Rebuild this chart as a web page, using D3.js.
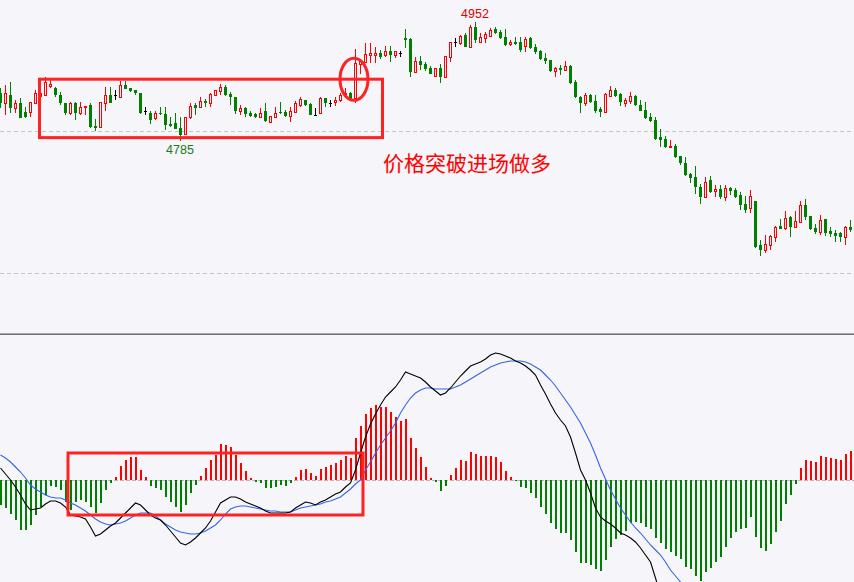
<!DOCTYPE html>
<html><head><meta charset="utf-8">
<script src="https://cdn.jsdelivr.net/npm/d3@7/dist/d3.min.js"></script>
<style>html,body{margin:0;padding:0;background:#f5f5fa;}svg{display:block;}</style>
</head><body>
<script>
// ---------- data ----------
const opens  = [4853,4839,4850,4832,4839,4826,4826,4839,4848,4850,4862,4860,4850,4839,4825,4839,4825,4833,4836,4806,4805,4839,4850,4850,4847,4864,4860,4857,4853,4827,4825,4818,4825,4823,4809,4811,4804,4795,4819,4836,4833,4841,4839,4850,4855,4861,4851,4847,4827,4832,4825,4823,4819,4827,4812,4819,4826,4826,4820,4826,4836,4843,4837,4822,4825,4846,4839,4840,4843,4848,4853,4846,4893,4896,4906,4906,4909,4906,4912,4906,4909,4930,4929,4882,4898,4893,4888,4877,4888,4875,4903,4924,4923,4934,4917,4945,4924,4930,4933,4943,4938,4931,4921,4924,4924,4919,4930,4917,4912,4902,4899,4884,4888,4885,4891,4868,4847,4839,4850,4841,4830,4826,4848,4857,4851,4839,4841,4848,4836,4829,4819,4815,4791,4788,4777,4778,4764,4754,4739,4735,4721,4707,4731,4715,4718,4707,4719,4717,4710,4697,4691,4701,4639,4632,4639,4651,4666,4663,4679,4665,4672,4695,4680,4663,4658,4676,4659,4656,4656,4651,4665];
const highs  = [4860,4864,4868,4843,4846,4833,4840,4857,4857,4875,4871,4861,4854,4839,4840,4840,4840,4834,4839,4816,4840,4861,4861,4857,4869,4869,4860,4857,4853,4833,4827,4827,4833,4833,4819,4825,4819,4819,4839,4839,4847,4844,4853,4857,4865,4864,4854,4847,4836,4833,4827,4825,4832,4839,4820,4833,4840,4829,4833,4841,4847,4843,4839,4832,4847,4846,4843,4847,4853,4860,4854,4914,4899,4923,4923,4917,4913,4919,4919,4912,4912,4942,4930,4903,4905,4896,4891,4888,4893,4905,4924,4930,4934,4937,4948,4952,4937,4938,4944,4945,4941,4942,4927,4931,4931,4931,4931,4921,4913,4909,4899,4889,4892,4898,4892,4871,4848,4853,4851,4850,4833,4853,4863,4860,4853,4846,4854,4850,4843,4840,4825,4819,4802,4792,4787,4781,4764,4763,4740,4750,4725,4735,4736,4724,4724,4724,4721,4719,4714,4708,4717,4701,4646,4653,4653,4666,4676,4687,4680,4687,4701,4704,4680,4669,4681,4676,4665,4660,4658,4666,4674];
const lows   = [4832,4822,4825,4825,4818,4818,4819,4839,4847,4850,4860,4847,4836,4822,4822,4815,4822,4822,4804,4799,4805,4827,4839,4843,4847,4858,4854,4850,4823,4822,4809,4815,4822,4801,4805,4802,4785,4795,4816,4822,4833,4833,4833,4850,4850,4849,4836,4823,4822,4819,4819,4818,4818,4812,4811,4819,4823,4819,4812,4825,4833,4834,4822,4822,4825,4833,4833,4834,4840,4847,4841,4839,4879,4895,4895,4895,4900,4903,4896,4902,4903,4916,4875,4882,4885,4884,4879,4875,4867,4874,4896,4917,4920,4917,4916,4923,4923,4923,4931,4935,4928,4919,4919,4920,4910,4910,4914,4907,4899,4893,4882,4875,4878,4884,4865,4846,4825,4834,4839,4825,4819,4825,4847,4847,4834,4833,4837,4834,4827,4816,4812,4787,4777,4775,4775,4761,4752,4736,4726,4711,4697,4707,4712,4707,4704,4701,4710,4705,4689,4684,4684,4635,4624,4628,4632,4644,4662,4660,4651,4665,4670,4674,4660,4655,4653,4652,4651,4644,4644,4639,4658];
const closes = [4839,4853,4832,4839,4818,4819,4840,4853,4853,4868,4865,4850,4839,4825,4839,4825,4833,4834,4805,4804,4840,4850,4839,4850,4864,4858,4856,4853,4825,4827,4815,4825,4823,4808,4806,4802,4794,4819,4834,4832,4841,4839,4851,4857,4861,4850,4847,4827,4832,4823,4820,4819,4825,4813,4820,4825,4825,4820,4827,4839,4844,4836,4822,4822,4846,4839,4839,4843,4850,4853,4843,4895,4898,4907,4909,4909,4903,4912,4906,4912,4909,4927,4882,4898,4892,4886,4879,4888,4875,4905,4924,4924,4933,4917,4945,4927,4931,4936,4941,4937,4930,4920,4924,4921,4913,4928,4916,4910,4900,4898,4884,4888,4885,4891,4867,4847,4839,4850,4840,4827,4826,4851,4857,4848,4840,4843,4848,4836,4827,4818,4813,4788,4787,4777,4778,4763,4754,4738,4733,4721,4707,4728,4714,4718,4707,4719,4715,4707,4696,4689,4708,4637,4632,4641,4652,4665,4662,4677,4665,4673,4695,4679,4662,4658,4674,4656,4655,4652,4651,4665,4660];

// MACD (DIF, DEA, histogram), in chart units
const dif = [12,6,0,-7,-15,-24,-30,-29,-28,-24,-21,-21,-23,-27,-35,-36,-37,-39,-47,-56,-54,-50,-46,-43,-38,-33,-28,-23,-25,-30,-35,-38,-40,-45,-51,-57,-63,-65,-62,-58,-53,-48,-41,-32,-23,-20,-17,-17,-19,-22,-24,-26,-28,-31,-33,-33,-33,-33,-32,-28,-25,-22,-23,-25,-22,-20,-17,-14,-12,-7,-3,10,27,43,56,66,75,83,88,93,100,108,106,104,102,98,93,89,85,87,92,98,104,109,114,116,118,121,125,127,126,124,122,119,117,114,110,105,95,86,76,67,60,54,43,27,10,0,-13,-28,-37,-41,-44,-48,-53,-55,-58,-62,-68,-75,-82,-98,-115,-130];
const dea = [25,22,18,13,8,2,-5,-9,-12,-15,-17,-18,-18,-20,-23,-25,-28,-31,-35,-39,-42,-44,-45,-44,-43,-41,-38,-35,-33,-33,-33,-36,-40,-44,-47,-50,-52,-53,-54,-54,-53,-51,-48,-45,-40,-34,-29,-27,-26,-26,-27,-28,-29,-30,-31,-31,-32,-32,-32,-30,-28,-27,-26,-25,-24,-22,-21,-19,-17,-13,-9,-4,0,10,18,27,35,42,49,57,67,75,82,87,90,92,92,91,91,91,91,93,95,98,101,104,107,110,113,115,117,118,119,119,119,118,116,113,110,105,100,94,87,80,73,65,57,47,37,25,12,1,-10,-19,-28,-35,-42,-48,-53,-59,-65,-70,-75,-82,-90,-96,-102,-108,-114];
const hist = [-25,-28,-34,-40,-50,-50,-45,-35,-27,-15,-6,-7,-10,-22,-30,-22,-20,-22,-27,-33,-23,-10,-3,3,14,20,23,23,10,3,-6,-8,-10,-17,-22,-27,-32,-25,-13,-5,4,12,20,25,36,35,33,25,17,9,2,-2,-3,-8,-8,-7,-5,-6,-3,3,10,11,7,4,11,13,15,17,20,24,22,42,54,66,72,75,73,73,68,63,59,61,42,32,23,13,2,-2,-11,-6,5,12,20,19,28,26,24,24,24,23,18,9,3,-1,-7,-8,-13,-18,-27,-34,-43,-49,-53,-53,-60,-72,-83,-83,-85,-89,-91,-80,-67,-59,-55,-51,-43,-42,-43,-47,-49,-58,-63,-69,-72,-76,-79,-87,-89,-96,-101,-92,-88,-82,-77,-67,-58,-52,-49,-48,-37,-57,-68,-71,-64,-52,-41,-24,-15,-4,12,20,19,18,24,23,22,21,20,26,29];

// reference levels and annotations
const priceGrid = [4800, 4600];
const peakLabels = [{i: 95, price: 4952, pos: "above"}, {i: 36, price: 4785, pos: "below"}];
const priceBox = {i0: 7.9, i1: 76.5, top: 4872, bottom: 4790};
const macdBox = {i0: 13.6, i1: 72.6, top: 27, bottom: -35};
const breakoutEllipse = {i: 70.8, price: 4872, ri: 2.8, rp: 29.5};
const noteText = {i: 76.6, price: 4745, text: "价格突破进场做多"};

// ---------- drawing ----------
const W = 854, H = 582;
const BG = "#f5f5fa", RED = "#ff0000", GREEN = "#008000", MARK = "#ff2222";
const svg = d3.select("body").append("svg").attr("width", W).attr("height", H);
svg.append("rect").attr("width", W).attr("height", H).attr("fill", BG);

const x = d3.scaleLinear().domain([0, 170]).range([0, 850]);
const yP = d3.scaleLinear().domain([4600, 4800]).range([273, 130.5]);
const yM = d3.scaleLinear().domain([0, 100]).range([480, 380]);

// price grid
svg.selectAll(".pg").data(priceGrid).enter().append("line")
  .attr("x1", 0).attr("x2", W).attr("y1", d => Math.round(yP(d)) + 0.5).attr("y2", d => Math.round(yP(d)) + 0.5)
  .attr("stroke", "#c4c4cc").attr("stroke-dasharray", "4,3");

// candles
const cg = svg.append("g").attr("shape-rendering", "crispEdges");
opens.forEach((o, i) => {
  const c = closes[i], h = highs[i], l = lows[i];
  const cx = Math.round(x(i));
  const col = c > o ? RED : (c < o ? GREEN : "#000");
  cg.append("line").attr("x1", cx + 0.5).attr("x2", cx + 0.5)
    .attr("y1", yP(h)).attr("y2", yP(l)).attr("stroke", col);
  if (c > o) {
    cg.append("rect").attr("x", cx - 0.5).attr("y", Math.round(yP(c)) + 0.5)
      .attr("width", 2).attr("height", Math.max(1, Math.round(yP(o)) - Math.round(yP(c))))
      .attr("fill", BG).attr("stroke", RED);
  } else if (c < o) {
    cg.append("rect").attr("x", cx - 1).attr("y", Math.round(yP(o)))
      .attr("width", 3).attr("height", Math.max(1, Math.round(yP(c)) - Math.round(yP(o))))
      .attr("fill", GREEN);
  } else {
    cg.append("line").attr("x1", cx - 1).attr("x2", cx + 2)
      .attr("y1", Math.round(yP(o)) + 0.5).attr("y2", Math.round(yP(o)) + 0.5).attr("stroke", "#000");
  }
});

// peak labels
svg.selectAll(".pl").data(peakLabels).enter().append("text")
  .attr("x", d => x(d.i)).attr("y", d => d.pos === "above" ? yP(d.price) - 4 : yP(d.price) + 13)
  .attr("text-anchor", "middle").attr("font-family", "Liberation Sans, Arial, sans-serif")
  .attr("font-size", 12.5).attr("fill", d => d.pos === "above" ? "#e00000" : "#1a7a1a")
  .text(d => d.price);

// annotation box + ellipse + note
svg.append("rect").attr("x", x(priceBox.i0)).attr("y", yP(priceBox.top))
  .attr("width", x(priceBox.i1) - x(priceBox.i0)).attr("height", yP(priceBox.bottom) - yP(priceBox.top))
  .attr("fill", "none").attr("stroke", MARK).attr("stroke-width", 3);
svg.append("ellipse").attr("cx", x(breakoutEllipse.i)).attr("cy", yP(breakoutEllipse.price))
  .attr("rx", x(breakoutEllipse.ri) - x(0)).attr("ry", yP(4800 - breakoutEllipse.rp) - yP(4800))
  .attr("fill", "none").attr("stroke", MARK).attr("stroke-width", 3);
svg.append("text").attr("x", x(noteText.i)).attr("y", yP(noteText.price) + 1)
  .attr("font-family", "Noto Sans CJK SC, sans-serif").attr("font-size", 21).attr("fill", RED)
  .text(noteText.text);

// separator
svg.append("line").attr("x1", 0).attr("x2", W).attr("y1", 333.5).attr("y2", 333.5).attr("stroke", "#a8a8b0");
svg.append("line").attr("x1", 0).attr("x2", W).attr("y1", 334.5).attr("y2", 334.5).attr("stroke", "#707078");

// MACD panel
svg.append("clipPath").attr("id", "mclip").append("rect").attr("x", 0).attr("y", 336).attr("width", W).attr("height", H - 336);
const mg = svg.append("g").attr("clip-path", "url(#mclip)");
mg.append("line").attr("x1", 0).attr("x2", W).attr("y1", yM(0) + 0.5).attr("y2", yM(0) + 0.5)
  .attr("stroke", "#b8b8c0").attr("stroke-dasharray", "4,2");
mg.append("g").attr("shape-rendering", "crispEdges").selectAll("rect").data(hist).enter().append("rect")
  .attr("x", (d, i) => Math.round(x(i))).attr("width", (d) => d >= 0 ? 1.6 : 2)
  .attr("y", d => Math.min(yM(d), yM(0))).attr("height", d => Math.abs(yM(d) - yM(0)))
  .attr("fill", d => d >= 0 ? RED : GREEN);
const line = d3.line().x((d, i) => x(i) + 0.5).y(d => yM(d));
mg.append("path").datum(dea).attr("d", line).attr("fill", "none").attr("stroke", "#3366e6").attr("stroke-width", 1.1);
mg.append("path").datum(dif).attr("d", line).attr("fill", "none").attr("stroke", "#000").attr("stroke-width", 1.1);

svg.append("rect").attr("x", x(macdBox.i0)).attr("y", yM(macdBox.top))
  .attr("width", x(macdBox.i1) - x(macdBox.i0)).attr("height", yM(macdBox.bottom) - yM(macdBox.top))
  .attr("fill", "none").attr("stroke", MARK).attr("stroke-width", 3);
</script>
</body></html>
